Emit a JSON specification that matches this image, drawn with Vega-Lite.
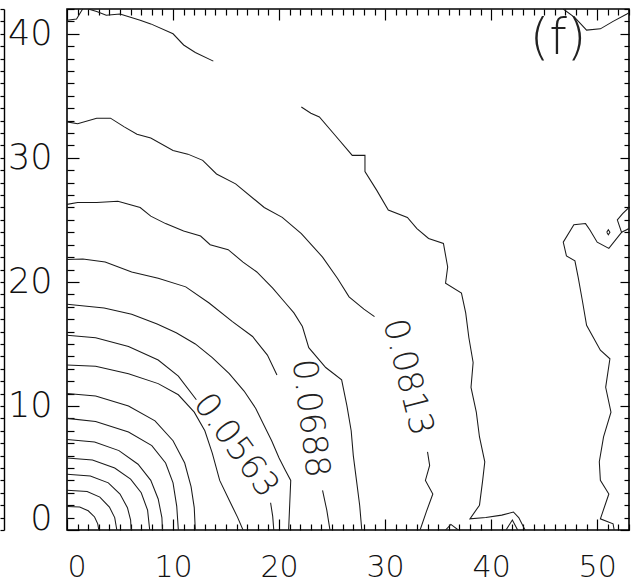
{
  "$schema": "https://vega.github.io/schema/vega-lite/v6.json",
  "width": 562,
  "height": 521,
  "autosize": {"type": "none"},
  "padding": {"left": 67, "top": 9, "right": 6, "bottom": 52},
  "background": "white",
  "config": {
    "view": {"stroke": "#000", "strokeWidth": 1.6},
    "axis": {
      "grid": false,
      "domain": false,
      "tickColor": "#000",
      "tickWidth": 1.2,
      "labelFont": "DejaVu Sans",
      "labelFontWeight": 200,
      "labelFontSize": 35,
      "labelColor": "#111",
      "title": null
    }
  },
  "datasets": {
    "contours": [
      {"s": "1", "i": 0, "x": 0, "y": 1.9}, {"s": "1", "i": 1, "x": 1.2, "y": 1.85}, {"s": "1", "i": 2, "x": 2.0, "y": 1.55}, {"s": "1", "i": 3, "x": 2.6, "y": 1.05}, {"s": "1", "i": 4, "x": 2.9, "y": 0.5}, {"s": "1", "i": 5, "x": 3.0, "y": 0},
      {"s": "2", "i": 0, "x": 0, "y": 3.2}, {"s": "2", "i": 1, "x": 1.9, "y": 3.1}, {"s": "2", "i": 2, "x": 3.1, "y": 2.65}, {"s": "2", "i": 3, "x": 4.0, "y": 1.85}, {"s": "2", "i": 4, "x": 4.5, "y": 1.0}, {"s": "2", "i": 5, "x": 4.7, "y": 0},
      {"s": "3", "i": 0, "x": 0, "y": 4.5}, {"s": "3", "i": 1, "x": 2.2, "y": 4.35}, {"s": "3", "i": 2, "x": 3.9, "y": 3.8}, {"s": "3", "i": 3, "x": 5.0, "y": 2.9}, {"s": "3", "i": 4, "x": 5.7, "y": 1.8}, {"s": "3", "i": 5, "x": 6.0, "y": 0.8}, {"s": "3", "i": 6, "x": 6.05, "y": 0},
      {"s": "4", "i": 0, "x": 0, "y": 5.8}, {"s": "4", "i": 1, "x": 2.4, "y": 5.65}, {"s": "4", "i": 2, "x": 4.5, "y": 5.0}, {"s": "4", "i": 3, "x": 6.0, "y": 4.1}, {"s": "4", "i": 4, "x": 7.0, "y": 3.0}, {"s": "4", "i": 5, "x": 7.6, "y": 1.6}, {"s": "4", "i": 6, "x": 7.8, "y": 0},
      {"s": "5", "i": 0, "x": 0, "y": 7.3}, {"s": "5", "i": 1, "x": 2.6, "y": 7.1}, {"s": "5", "i": 2, "x": 4.9, "y": 6.4}, {"s": "5", "i": 3, "x": 6.7, "y": 5.3}, {"s": "5", "i": 4, "x": 7.9, "y": 4.0}, {"s": "5", "i": 5, "x": 8.6, "y": 2.5}, {"s": "5", "i": 6, "x": 8.95, "y": 1.0}, {"s": "5", "i": 7, "x": 9.0, "y": 0},
      {"s": "6", "i": 0, "x": 0, "y": 9.0}, {"s": "6", "i": 1, "x": 2.7, "y": 8.75}, {"s": "6", "i": 2, "x": 5.8, "y": 7.9}, {"s": "6", "i": 3, "x": 8.0, "y": 6.8}, {"s": "6", "i": 4, "x": 9.3, "y": 5.4}, {"s": "6", "i": 5, "x": 10.0, "y": 3.8}, {"s": "6", "i": 6, "x": 10.35, "y": 1.9}, {"s": "6", "i": 7, "x": 10.5, "y": 0},
      {"s": "7", "i": 0, "x": 0, "y": 11.0}, {"s": "7", "i": 1, "x": 2.7, "y": 10.8}, {"s": "7", "i": 2, "x": 5.8, "y": 10.0}, {"s": "7", "i": 3, "x": 8.3, "y": 8.8}, {"s": "7", "i": 4, "x": 10.0, "y": 7.2}, {"s": "7", "i": 5, "x": 11.1, "y": 5.4}, {"s": "7", "i": 6, "x": 11.7, "y": 3.5}, {"s": "7", "i": 7, "x": 12.0, "y": 1.8}, {"s": "7", "i": 8, "x": 12.1, "y": 0},
      {"s": "8", "i": 0, "x": 0, "y": 13.3}, {"s": "8", "i": 1, "x": 2.7, "y": 13.2}, {"s": "8", "i": 2, "x": 5.8, "y": 12.6}, {"s": "8", "i": 3, "x": 8.6, "y": 11.8}, {"s": "8", "i": 4, "x": 10.5, "y": 10.9}, {"s": "8", "i": 5, "x": 12.0, "y": 9.5}, {"s": "8", "i": 6, "x": 13.0, "y": 8.0}, {"s": "8", "i": 7, "x": 13.7, "y": 6.2}, {"s": "8", "i": 8, "x": 14.4, "y": 4.0}, {"s": "8", "i": 9, "x": 15.3, "y": 2.4}, {"s": "8", "i": 10, "x": 16.1, "y": 1.0}, {"s": "8", "i": 11, "x": 16.6, "y": 0},
      {"s": "9a", "i": 0, "x": 0, "y": 15.7}, {"s": "9a", "i": 1, "x": 2.7, "y": 15.5}, {"s": "9a", "i": 2, "x": 5.8, "y": 14.8}, {"s": "9a", "i": 3, "x": 8.6, "y": 13.7}, {"s": "9a", "i": 4, "x": 10.5, "y": 12.4}, {"s": "9a", "i": 5, "x": 12.2, "y": 10.5},
      {"s": "9b", "i": 0, "x": 19.2, "y": 2.2}, {"s": "9b", "i": 1, "x": 19.4, "y": 1.1}, {"s": "9b", "i": 2, "x": 19.5, "y": 0},
      {"s": "10", "i": 0, "x": 0, "y": 18.2}, {"s": "10", "i": 1, "x": 3.5, "y": 17.9}, {"s": "10", "i": 2, "x": 6.1, "y": 17.4}, {"s": "10", "i": 3, "x": 8.5, "y": 16.6}, {"s": "10", "i": 4, "x": 10.3, "y": 15.9}, {"s": "10", "i": 5, "x": 12.1, "y": 15.0}, {"s": "10", "i": 6, "x": 13.7, "y": 13.9}, {"s": "10", "i": 7, "x": 15.3, "y": 12.6}, {"s": "10", "i": 8, "x": 16.7, "y": 11.2}, {"s": "10", "i": 9, "x": 17.8, "y": 9.8}, {"s": "10", "i": 10, "x": 18.6, "y": 8.4}, {"s": "10", "i": 11, "x": 19.3, "y": 7.2}, {"s": "10", "i": 12, "x": 20.0, "y": 5.8}, {"s": "10", "i": 13, "x": 20.6, "y": 4.8}, {"s": "10", "i": 14, "x": 21.1, "y": 4.0}, {"s": "10", "i": 15, "x": 21.0, "y": 2.0}, {"s": "10", "i": 16, "x": 20.9, "y": 0},
      {"s": "11a", "i": 0, "x": 0, "y": 21.8}, {"s": "11a", "i": 1, "x": 1.5, "y": 21.85}, {"s": "11a", "i": 2, "x": 3.6, "y": 21.6}, {"s": "11a", "i": 3, "x": 6.1, "y": 20.8}, {"s": "11a", "i": 4, "x": 8.6, "y": 20.3}, {"s": "11a", "i": 5, "x": 11.2, "y": 19.6}, {"s": "11a", "i": 6, "x": 13.4, "y": 18.3}, {"s": "11a", "i": 7, "x": 15.6, "y": 16.8}, {"s": "11a", "i": 8, "x": 17.5, "y": 15.6}, {"s": "11a", "i": 9, "x": 18.9, "y": 14.1}, {"s": "11a", "i": 10, "x": 19.8, "y": 12.5},
      {"s": "11b", "i": 0, "x": 24.1, "y": 3.2}, {"s": "11b", "i": 1, "x": 24.5, "y": 1.6}, {"s": "11b", "i": 2, "x": 24.8, "y": 0},
      {"s": "12", "i": 0, "x": 0, "y": 26.25}, {"s": "12", "i": 1, "x": 1.0, "y": 26.4}, {"s": "12", "i": 2, "x": 2.8, "y": 26.4}, {"s": "12", "i": 3, "x": 4.8, "y": 26.5}, {"s": "12", "i": 4, "x": 6.9, "y": 26.0}, {"s": "12", "i": 5, "x": 7.9, "y": 25.3}, {"s": "12", "i": 6, "x": 9.3, "y": 24.7}, {"s": "12", "i": 7, "x": 11.0, "y": 24.1}, {"s": "12", "i": 8, "x": 12.6, "y": 23.7}, {"s": "12", "i": 9, "x": 13.5, "y": 23.0}, {"s": "12", "i": 10, "x": 15.2, "y": 22.6}, {"s": "12", "i": 11, "x": 16.6, "y": 21.6}, {"s": "12", "i": 12, "x": 17.9, "y": 20.8}, {"s": "12", "i": 13, "x": 19.4, "y": 19.5}, {"s": "12", "i": 14, "x": 20.6, "y": 18.3}, {"s": "12", "i": 15, "x": 21.4, "y": 17.5}, {"s": "12", "i": 16, "x": 22.2, "y": 16.4}, {"s": "12", "i": 17, "x": 22.8, "y": 14.7}, {"s": "12", "i": 18, "x": 24.4, "y": 13.1}, {"s": "12", "i": 19, "x": 25.9, "y": 12.1}, {"s": "12", "i": 20, "x": 26.4, "y": 10.0}, {"s": "12", "i": 21, "x": 26.8, "y": 8.0}, {"s": "12", "i": 22, "x": 27.0, "y": 6.0}, {"s": "12", "i": 23, "x": 27.3, "y": 4.0}, {"s": "12", "i": 24, "x": 27.6, "y": 2.0}, {"s": "12", "i": 25, "x": 27.8, "y": 0},
      {"s": "13a", "i": 0, "x": 0, "y": 32.9}, {"s": "13a", "i": 1, "x": 1.0, "y": 32.75}, {"s": "13a", "i": 2, "x": 2.8, "y": 33.2}, {"s": "13a", "i": 3, "x": 4.1, "y": 33.2}, {"s": "13a", "i": 4, "x": 5.4, "y": 32.5}, {"s": "13a", "i": 5, "x": 6.6, "y": 31.9}, {"s": "13a", "i": 6, "x": 7.9, "y": 31.6}, {"s": "13a", "i": 7, "x": 10.0, "y": 30.6}, {"s": "13a", "i": 8, "x": 11.4, "y": 30.3}, {"s": "13a", "i": 9, "x": 12.8, "y": 29.8}, {"s": "13a", "i": 10, "x": 14.1, "y": 28.7}, {"s": "13a", "i": 11, "x": 15.9, "y": 27.9}, {"s": "13a", "i": 12, "x": 18.6, "y": 26.0}, {"s": "13a", "i": 13, "x": 20.3, "y": 25.2}, {"s": "13a", "i": 14, "x": 22.1, "y": 23.9}, {"s": "13a", "i": 15, "x": 24.1, "y": 22.0}, {"s": "13a", "i": 16, "x": 25.5, "y": 20.3}, {"s": "13a", "i": 17, "x": 26.6, "y": 18.8}, {"s": "13a", "i": 18, "x": 28.0, "y": 17.8}, {"s": "13a", "i": 19, "x": 29.0, "y": 17.2},
      {"s": "13b", "i": 0, "x": 34.0, "y": 6.3}, {"s": "13b", "i": 1, "x": 34.2, "y": 5.2}, {"s": "13b", "i": 2, "x": 33.8, "y": 4.0}, {"s": "13b", "i": 3, "x": 34.5, "y": 2.9}, {"s": "13b", "i": 4, "x": 33.9, "y": 1.5}, {"s": "13b", "i": 5, "x": 33.3, "y": 0},
      {"s": "14", "i": 0, "x": 22.1, "y": 34.1}, {"s": "14", "i": 1, "x": 23.0, "y": 33.6}, {"s": "14", "i": 2, "x": 23.8, "y": 33.3}, {"s": "14", "i": 3, "x": 25.3, "y": 31.8}, {"s": "14", "i": 4, "x": 26.9, "y": 30.2}, {"s": "14", "i": 5, "x": 28.1, "y": 30.2}, {"s": "14", "i": 6, "x": 28.1, "y": 28.9}, {"s": "14", "i": 7, "x": 29.2, "y": 27.4}, {"s": "14", "i": 8, "x": 30.3, "y": 25.8}, {"s": "14", "i": 9, "x": 32.1, "y": 25.2}, {"s": "14", "i": 10, "x": 33.0, "y": 24.3}, {"s": "14", "i": 11, "x": 34.1, "y": 23.5}, {"s": "14", "i": 12, "x": 35.5, "y": 23.1}, {"s": "14", "i": 13, "x": 35.9, "y": 21.2}, {"s": "14", "i": 14, "x": 35.7, "y": 19.9}, {"s": "14", "i": 15, "x": 37.2, "y": 19.1}, {"s": "14", "i": 16, "x": 37.6, "y": 17.5}, {"s": "14", "i": 17, "x": 37.9, "y": 15.5}, {"s": "14", "i": 18, "x": 38.3, "y": 13.5}, {"s": "14", "i": 19, "x": 38.1, "y": 11.5}, {"s": "14", "i": 20, "x": 38.6, "y": 9.5}, {"s": "14", "i": 21, "x": 38.9, "y": 7.5}, {"s": "14", "i": 22, "x": 39.4, "y": 5.5}, {"s": "14", "i": 23, "x": 39.2, "y": 4.0}, {"s": "14", "i": 24, "x": 38.9, "y": 2.0}, {"s": "14", "i": 25, "x": 38.0, "y": 0.9}, {"s": "14", "i": 26, "x": 39.5, "y": 1.0}, {"s": "14", "i": 27, "x": 41.0, "y": 1.2}, {"s": "14", "i": 28, "x": 42.1, "y": 1.45}, {"s": "14", "i": 29, "x": 42.6, "y": 1.0}, {"s": "14", "i": 30, "x": 43.2, "y": 0},
      {"s": "14c", "i": 0, "x": 35.7, "y": 0}, {"s": "14c", "i": 1, "x": 36.2, "y": 0.45}, {"s": "14c", "i": 2, "x": 36.9, "y": 0},
      {"s": "14d", "i": 0, "x": 41.4, "y": 0}, {"s": "14d", "i": 1, "x": 42.0, "y": 0.8}, {"s": "14d", "i": 2, "x": 42.5, "y": 0},
      {"s": "15a", "i": 0, "x": 53, "y": 26.0}, {"s": "15a", "i": 1, "x": 52.4, "y": 25.5}, {"s": "15a", "i": 2, "x": 51.9, "y": 25.0}, {"s": "15a", "i": 3, "x": 52.3, "y": 24.0}, {"s": "15a", "i": 4, "x": 51.1, "y": 22.7}, {"s": "15a", "i": 5, "x": 50.0, "y": 23.2}, {"s": "15a", "i": 6, "x": 49.3, "y": 24.2}, {"s": "15a", "i": 7, "x": 48.9, "y": 24.7}, {"s": "15a", "i": 8, "x": 47.8, "y": 24.6}, {"s": "15a", "i": 9, "x": 46.8, "y": 23.2}, {"s": "15a", "i": 10, "x": 47.1, "y": 22.1}, {"s": "15a", "i": 11, "x": 47.9, "y": 21.7}, {"s": "15a", "i": 12, "x": 48.2, "y": 20.4}, {"s": "15a", "i": 13, "x": 48.6, "y": 18.5}, {"s": "15a", "i": 14, "x": 49.0, "y": 16.5}, {"s": "15a", "i": 15, "x": 50.3, "y": 14.5}, {"s": "15a", "i": 16, "x": 51.2, "y": 13.8}, {"s": "15a", "i": 17, "x": 50.8, "y": 11.5}, {"s": "15a", "i": 18, "x": 51.3, "y": 9.5}, {"s": "15a", "i": 19, "x": 50.6, "y": 7.5}, {"s": "15a", "i": 20, "x": 50.2, "y": 5.5}, {"s": "15a", "i": 21, "x": 50.3, "y": 4.0}, {"s": "15a", "i": 22, "x": 51.1, "y": 2.9}, {"s": "15a", "i": 23, "x": 50.3, "y": 0.9}, {"s": "15a", "i": 24, "x": 51.5, "y": 0.5}, {"s": "15a", "i": 25, "x": 51.6, "y": 0},
      {"s": "15c", "i": 0, "x": 52.3, "y": 24.0}, {"s": "15c", "i": 1, "x": 53, "y": 24.3},
      {"s": "15d", "i": 0, "x": 50.9, "y": 24.0}, {"s": "15d", "i": 1, "x": 51.05, "y": 24.2}, {"s": "15d", "i": 2, "x": 51.2, "y": 24.0}, {"s": "15d", "i": 3, "x": 51.05, "y": 23.8}, {"s": "15d", "i": 4, "x": 50.9, "y": 24.0},
      {"s": "16a", "i": 0, "x": 0, "y": 41.1}, {"s": "16a", "i": 1, "x": 0.9, "y": 41.2}, {"s": "16a", "i": 2, "x": 1.4, "y": 41.9}, {"s": "16a", "i": 3, "x": 1.5, "y": 42},
      {"s": "16b", "i": 0, "x": 2.0, "y": 42}, {"s": "16b", "i": 1, "x": 2.8, "y": 41.8}, {"s": "16b", "i": 2, "x": 3.7, "y": 41.5}, {"s": "16b", "i": 3, "x": 5.0, "y": 41.6}, {"s": "16b", "i": 4, "x": 6.9, "y": 41.1}, {"s": "16b", "i": 5, "x": 7.9, "y": 40.8}, {"s": "16b", "i": 6, "x": 10.0, "y": 40.0}, {"s": "16b", "i": 7, "x": 11.0, "y": 39.1}, {"s": "16b", "i": 8, "x": 12.1, "y": 38.5}, {"s": "16b", "i": 9, "x": 13.8, "y": 37.8},
      {"s": "16c", "i": 0, "x": 46.8, "y": 42}, {"s": "16c", "i": 1, "x": 47.9, "y": 41.3}, {"s": "16c", "i": 2, "x": 49.0, "y": 40.3}, {"s": "16c", "i": 3, "x": 50.3, "y": 40.4}, {"s": "16c", "i": 4, "x": 51.5, "y": 41.0}, {"s": "16c", "i": 5, "x": 52.8, "y": 41.6}, {"s": "16c", "i": 6, "x": 53, "y": 41.7}
    ],
    "labels": [
      {"label": "0.0563", "x": 15.9, "y": 6.8},
      {"label": "0.0688", "x": 22.9, "y": 9.0},
      {"label": "0.0813", "x": 32.1, "y": 12.3},
      {"label": "(f)", "x": 46.3, "y": 39.6}
    ]
  },
  "resolve": {"axis": {"x": "independent", "y": "independent"}},
  "layer": [
    {
      "data": {"name": "contours"},
      "mark": {"type": "line", "color": "#1a1a1a", "strokeWidth": 1.05, "clip": true},
      "encoding": {
        "x": {
          "field": "x", "type": "quantitative",
          "scale": {"domain": [0, 53], "nice": false, "zero": false},
          "axis": {
            "orient": "bottom",
            "values": [0,1,2,3,4,5,6,7,8,9,10,11,12,13,14,15,16,17,18,19,20,21,22,23,24,25,26,27,28,29,30,31,32,33,34,35,36,37,38,39,40,41,42,43,44,45,46,47,48,49,50,51,52,53],
            "format": "d",
            "labelExpr": "datum.value % 10 === 0 ? datum.label : ''",
            "labelOverlap": false,
            "labelBaseline": "top",
            "labelFontSize": 30,
            "labelPadding": 33,
            "tickSize": {"condition": {"test": "datum.value % 10 === 0", "value": -11}, "value": -6}
          }
        },
        "y": {
          "field": "y", "type": "quantitative",
          "scale": {"domain": [0, 42], "nice": false, "zero": false},
          "axis": {
            "orient": "left",
            "values": [0,1,2,3,4,5,6,7,8,9,10,11,12,13,14,15,16,17,18,19,20,21,22,23,24,25,26,27,28,29,30,31,32,33,34,35,36,37,38,39,40,41,42],
            "format": "d",
            "labelExpr": "datum.value % 10 === 0 ? datum.label : ''",
            "labelOverlap": false,
            "labelFlush": false,
            "labelBaseline": "middle",
            "labelOffset": {"condition": {"test": "datum.value === 0", "value": -12}, "value": 0},
            "labelPadding": 27,
            "tickSize": {"condition": {"test": "datum.value % 10 === 0", "value": -12}, "value": -7}
          }
        },
        "detail": {"field": "s"},
        "order": {"field": "i"}
      }
    },
    {
      "data": {"name": "labels"},
      "transform": [{"filter": "datum.label === '(f)'"}],
      "mark": {"type": "text", "font": "DejaVu Sans", "fontSize": 50, "fontWeight": 200, "color": "#222", "align": "center", "baseline": "middle"},
      "encoding": {
        "x": {
          "field": "x", "type": "quantitative",
          "axis": {
            "orient": "top",
            "values": [0,1,2,3,4,5,6,7,8,9,10,11,12,13,14,15,16,17,18,19,20,21,22,23,24,25,26,27,28,29,30,31,32,33,34,35,36,37,38,39,40,41,42,43,44,45,46,47,48,49,50,51,52,53],
            "labels": false,
            "tickSize": {"condition": {"test": "datum.value % 10 === 0", "value": -11}, "value": -6}
          }
        },
        "y": {
          "field": "y", "type": "quantitative",
          "axis": {
            "orient": "right",
            "values": [0,1,2,3,4,5,6,7,8,9,10,11,12,13,14,15,16,17,18,19,20,21,22,23,24,25,26,27,28,29,30,31,32,33,34,35,36,37,38,39,40,41,42],
            "labels": false,
            "tickSize": {"condition": {"test": "datum.value % 10 === 0", "value": -9}, "value": -5}
          }
        },
        "text": {"field": "label"}
      }
    },
    {
      "data": {"name": "labels"},
      "transform": [{"filter": "datum.label === '0.0563'"}],
      "mark": {"type": "text", "angle": 54, "font": "DejaVu Sans", "fontSize": 34, "fontWeight": 200, "color": "#222", "align": "center", "baseline": "middle"},
      "encoding": {
        "x": {"field": "x", "type": "quantitative", "axis": null},
        "y": {
          "field": "y", "type": "quantitative",
          "axis": {
            "orient": "left",
            "offset": 63,
            "values": [0,1,2,3,4,5,6,7,8,9,10,11,12,13,14,15,16,17,18,19,20,21,22,23,24,25,26,27,28,29,30,31,32,33,34,35,36,37,38,39,40,41,42],
            "labels": false,
            "tickSize": 4,
            "domain": true,
            "domainColor": "#000",
            "domainWidth": 1.4
          }
        },
        "text": {"field": "label"}
      }
    },
    {
      "data": {"name": "labels"},
      "transform": [{"filter": "datum.label === '0.0688'"}],
      "mark": {"type": "text", "angle": 83, "font": "DejaVu Sans", "fontSize": 34, "fontWeight": 200, "color": "#222", "align": "center", "baseline": "middle"},
      "encoding": {
        "x": {"field": "x", "type": "quantitative", "axis": null},
        "y": {"field": "y", "type": "quantitative", "axis": null},
        "text": {"field": "label"}
      }
    },
    {
      "data": {"name": "labels"},
      "transform": [{"filter": "datum.label === '0.0813'"}],
      "mark": {"type": "text", "angle": 76, "font": "DejaVu Sans", "fontSize": 34, "fontWeight": 200, "color": "#222", "align": "center", "baseline": "middle"},
      "encoding": {
        "x": {"field": "x", "type": "quantitative", "axis": null},
        "y": {"field": "y", "type": "quantitative", "axis": null},
        "text": {"field": "label"}
      }
    }
  ]
}
